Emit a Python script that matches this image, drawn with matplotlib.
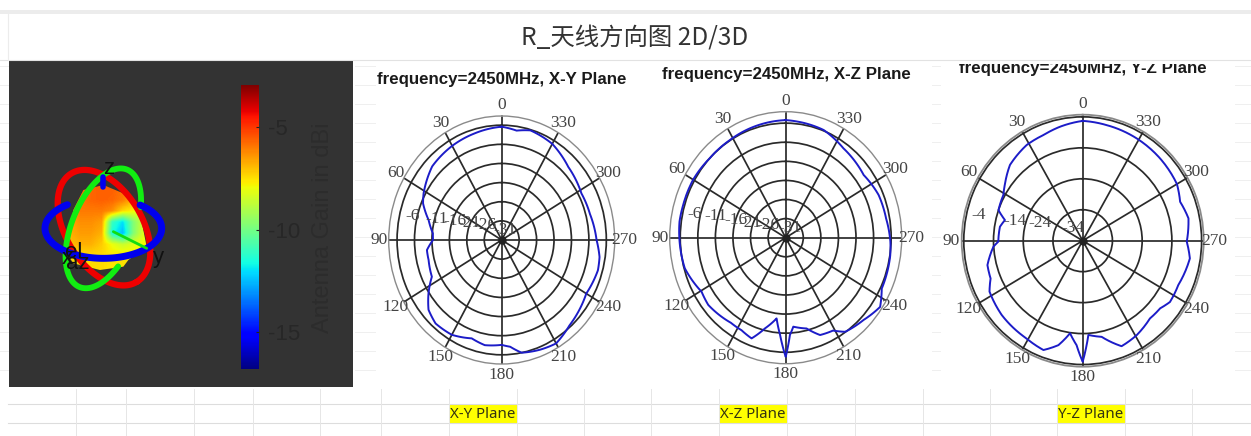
import numpy as np
import matplotlib
matplotlib.use('Agg')
import matplotlib.pyplot as plt
from matplotlib import patches
from matplotlib.cm import ScalarMappable
from matplotlib.colors import Normalize

W, H = 1251, 436
SERIF = 'Liberation Serif'
SANS = 'Liberation Sans'

spoke_angles = [0, 30, 60, 90, 120, 150, 180, 210, 240, 270, 300, 330]

xy_theta = [0, 16, 30, 46, 61.4, 67, 76, 85, 90, 97, 104, 115.6, 123.6, 131, 139, 150, 161.5, 170, 180, 185,
            191, 201, 210, 221, 240, 254, 261, 270, 285, 298, 315, 330, 344, 351.5, 360]
xy_gain = [-6.4, -7.1, -7.6, -8.3, -10.5, -11.5, -14.4, -16.2, -16.3, -14.4, -14.4, -13.8, -10.8, -8.2, -7.1,
           -7.4, -8.9, -8.1, -8.6, -8.0, -6.0, -5.3, -4.8, -6.4, -8.0, -7.3, -7.6, -8.8, -9.8, -10.1, -9.0,
           -7.0, -6.2, -7.1, -6.4]

xz_theta = [0, 19.5, 32, 46, 60, 73.7, 82, 92, 105.6, 120.6, 128.6, 145, 152.6, 159.8, 166, 173, 176.4, 180,
            182.7, 185.3, 194, 201, 209, 214.5, 225.8, 236, 244, 261, 268, 280, 293, 306.5, 325, 339, 354, 360]
xz_gain = [-5.2, -5.6, -5.9, -6.0, -5.6, -5.6, -5.5, -5.8, -6.2, -8.2, -7.8, -8.8, -8.7, -7.9, -11.5, -14.7,
           -10.5, -4.8, -10.5, -12.6, -11.5, -8.7, -8.2, -6.1, -5.1, -3.6, -5.6, -5.9, -6.2, -7.0, -7.3, -8.4,
           -7.4, -5.8, -5.4, -5.2]

yz_theta = [0, 11.7, 21, 31.4, 45, 54.7, 61, 70.8, 75.7, 80.8, 90.6, 93.7, 103.8, 111.5, 117.7, 131.4, 149,
            159.5, 166.4, 171.9, 176.5, 180, 183.6, 191.6, 201, 210.8, 222, 230, 236, 246, 261, 269.5, 281.5,
            291, 300, 315.6, 331, 348, 360]
yz_gain = [-5.3, -6.4, -7.4, -7.8, -9.4, -12.0, -13.5, -14.0, -17.0, -15.8, -15.6, -13.9, -11.0, -10.7, -8.6,
           -7.7, -7.2, -6.3, -9.3, -13.8, -10.2, -4.9, -13.5, -12.3, -7.5, -8.5, -10.2, -10.0, -8.6, -8.8,
           -7.5, -9.0, -7.7, -8.9, -7.4, -6.8, -6.3, -5.8, -5.3]

xy_rings = [-31, -26, -21, -16, -11, -6]
yz_rings = [-34, -24, -14, -4]

# gain over the 3D pattern, rows top to bottom
blob_gain = np.array([
    [-5.8, -5.8, -5.7, -5.6, -5.6, -5.9, -6.6, -7.0],
    [-6.0, -5.9, -5.7, -5.6, -5.7, -6.0, -6.8, -7.6],
    [-6.4, -6.0, -6.0, -6.0, -6.3, -7.4, -7.8, -8.4],
    [-6.6, -6.3, -6.3, -6.5, -11.0, -12.0, -9.8, -8.4],
    [-6.8, -6.5, -6.5, -6.8, -11.5, -12.5, -9.8, -8.2],
    [-7.0, -6.8, -6.8, -7.2, -8.0, -8.6, -8.2, -7.8],
    [-7.4, -7.4, -7.4, -7.4, -7.6, -7.5, -7.6, -7.6],
    [-7.4, -7.4, -7.4, -7.4, -7.6, -7.5, -7.6, -7.6],
])
cbar_min, cbar_max = -16.8, -2.95
cbar_ticks = [-5, -10, -15]

# outline and axis rings in crop pixels of the left panel
blob_outline = [(310, 405), (250, 420), (220, 480), (205, 560), (200, 610), (220, 640), (300, 660), (370, 650),
                (385, 630), (440, 590), (420, 490), (370, 430)]
blue_stub = [(310, 380), (310, 410)]
green_axis = [(340, 545), (440, 595)]
# cx, cy, semi a, semi b, tilt, start, end, colour, width
axis_rings = [
    (312, 533, 190, 115, 59, 0, 360, '#ee0000', 4.5),
    (310, 535, 190, 95, -68, 118, 418, '#11ee11', 4.2),
    (310, 535, 175, 90, 0, -51, 232, '#0000ee', 5),
]

col_lines = [76, 126, 194, 253, 320, 381, 449, 517, 584, 651, 719, 787, 855, 923, 990, 1057, 1125, 1192]
row_lines = [404, 423]
plane_names = ['X-Y Plane', 'X-Z Plane', 'Y-Z Plane']
plane_cells = [449, 719, 1057]


def crop_px(pts):
    arr = np.array(pts, dtype=float)
    return arr[:, 0] / 3, 50 + arr[:, 1] / 3


def ring_px(cx, cy, a, b, tilt, t0, t1):
    t = np.radians(np.linspace(t0, t1, 120))
    r = np.radians(tilt)
    x = cx + a * np.cos(t) * np.cos(r) - b * np.sin(t) * np.sin(r)
    y = cy + a * np.cos(t) * np.sin(r) + b * np.sin(t) * np.cos(r)
    return x / 3, 50 + y / 3


def polar_panel(center, radii, rmin, rmax, rings, theta, gain):
    cx, cy = center
    rx, ry = radii
    ax = fig.add_axes([(cx - rx) / W, 1 - (cy + ry) / H, 2 * rx / W, 2 * ry / H],
                      projection='polar', zorder=2)
    ax.set_aspect('auto')
    ax.patch.set_alpha(0)
    ax.set_theta_zero_location('N')
    ax.set_theta_direction(1)
    ax.set_rlim(rmin, rmax)
    ax.set_rticks(rings)
    ax.set_xticks(np.radians(spoke_angles))
    ax.set_xticklabels([])
    ax.set_yticklabels([])
    ax.tick_params(length=0)
    ax.grid(True, color='#2a2a2a', lw=1.25)
    ax.spines['polar'].set_color('#8a8a8a')
    ax.spines['polar'].set_linewidth(1.0)
    line, = ax.plot(np.radians(theta), gain, color='#1c1cc8', lw=1.4, zorder=4)
    # follow the polar arc between read points instead of straight chords
    line.get_path()._interpolation_steps = 16
    ax.plot([0], [rmin], 'o', color='#222222', ms=5, zorder=3)
    for a in spoke_angles:
        ax.text(np.radians(a), rmin + 1.085 * (rmax - rmin), str(a), family=SERIF, fontsize=12.5, color='#444444',
                ha='center', va='center', clip_on=False)
    return ax


fig = plt.figure(figsize=(W / 100, H / 100), dpi=100, facecolor='white')
page = fig.add_axes([0, 0, 1, 1], zorder=0)
top = fig.add_axes([0, 0, 1, 1], zorder=3)
for a in (page, top):
    a.set_xlim(0, W)
    a.set_ylim(H, 0)
    a.axis('off')

# sheet chrome
page.add_patch(patches.Rectangle((0, 10), W, 4.5, color='#ececec', lw=0))
page.plot([0, W], [60, 60], color='#e2e2e2', lw=0.8)
page.plot([8, 8], [14, 60], color='#ececec', lw=0.8)
for y in row_lines:
    page.plot([8, W], [y, y], color='#dddddd', lw=0.8)
for x in col_lines:
    page.plot([x, x], [389, 436], color='#e6e6e6', lw=0.7)
for y in np.arange(66, 385, 19):
    for x0, x1 in [(0, 8), (355, 375), (932, 940), (1235, 1251)]:
        page.plot([x0, x1], [y, y], color='#efefef', lw=0.7)

page.text(635, 38.5, 'R_天线方向图 2D/3D', family=['Noto Sans CJK SC', 'DejaVu Sans'], fontsize=17.6,
          color='#333333', ha='center', va='center')

for name, x in zip(plane_names, plane_cells):
    page.add_patch(patches.Rectangle((x, 404), 68, 20, color='#ffff00', lw=0))
    page.text(x + 34, 414.5, name, family='Noto Sans', fontsize=10.8, color='#333311', ha='center', va='center')

# 3D panel
page.add_patch(patches.Rectangle((9, 61), 344, 326, color='#333333', lw=0))
bx, by = crop_px(blob_outline)
poly = patches.Polygon(np.column_stack([bx, by]), closed=True, fc='none', ec='none')
page.add_patch(poly)
im = page.imshow(blob_gain, cmap='jet', vmin=cbar_min, vmax=cbar_max, interpolation='bilinear', aspect='auto',
                 extent=[195 / 3, 445 / 3, 50 + 665 / 3, 50 + 400 / 3], zorder=2)
im.set_clip_path(poly)
page.set_xlim(0, W)
page.set_ylim(H, 0)

for cx, cy, a, b, tilt, t0, t1, col, lw in axis_rings:
    px, py = ring_px(cx, cy, a, b, tilt, t0, t1)
    page.plot(px, py, color=col, lw=lw, solid_capstyle='round', zorder=3)
for pts, col, lw in [(blue_stub, '#0000ee', 4), (green_axis, '#11dd11', 2)]:
    px, py = crop_px(pts)
    page.plot(px, py, color=col, lw=lw, solid_capstyle='round', zorder=3)

for s, x, y in [('z', 109, 168), ('y', 158, 257), ('x', 67, 258), ('el', 74, 252), ('az', 78, 263)]:
    page.text(x, y, s, family=SANS, fontsize=16, color='#111111', ha='center', va='center', zorder=4)

cax = fig.add_axes([240.7 / W, 1 - 369 / H, 18.6 / W, 284 / H], zorder=2)
cb = fig.colorbar(ScalarMappable(Normalize(cbar_min, cbar_max), 'jet'), cax=cax)
cb.outline.set_visible(False)
cax.set_yticks(cbar_ticks, [str(v) for v in cbar_ticks], family=SANS)
cax.tick_params(length=2, width=0.8, color='#222222', direction='in', labelsize=16, labelcolor='#272727', pad=6)
top.text(323, 228, 'Antenna Gain in dBi', rotation=90, family=SANS, fontsize=17, color='#2c2c2c',
         ha='center', va='center')

# polar cuts
polar_panel((501.7, 240), (113, 124), -36, -3.6, xy_rings, xy_theta, xy_gain)
polar_panel((785.7, 237.7), (116, 126), -36, -3, xy_rings, xz_theta, xz_gain)
ax3 = polar_panel((1082.7, 240.7), (121, 126), -44, -3.3, yz_rings, yz_theta, yz_gain)
ax3.spines['polar'].set_linewidth(1.3)

for s, x, y in [('-6', 412.7, 216), ('-11', 437, 219), ('-16', 455, 221), ('-21', 469, 223), ('-26', 485, 225),
                ('-31', 505, 230), ('-6', 695, 214.3), ('-11', 716, 216), ('-16', 736, 220), ('-21', 750, 222.7),
                ('-26', 768, 225), ('-31', 790, 228), ('-4', 978.3, 215), ('-14', 1015, 220.7),
                ('-24', 1040, 222.7), ('-34', 1073, 227.7)]:
    top.text(x, y, s, family=SERIF, fontsize=12.5, color='#444444', ha='center', va='center')

title_x = [501.5, 786, 1082.5]
title_base = [84, 79, 73.3]
title_names = ['frequency=2450MHz, X-Y Plane', 'frequency=2450MHz, X-Z Plane', 'frequency=2450MHz, Y-Z Plane']
for s, x, y in zip(title_names, title_x, title_base):
    t = top.text(x, y, s, family=SANS, weight='bold', fontsize=12.2, color='#1a1a1a', ha='center', va='baseline')
    t.set_clip_on(True)
    t.set_clip_path(patches.Rectangle((360, 64.5), 880, 30, transform=top.transData))

fig.savefig('out.png', dpi=100)
